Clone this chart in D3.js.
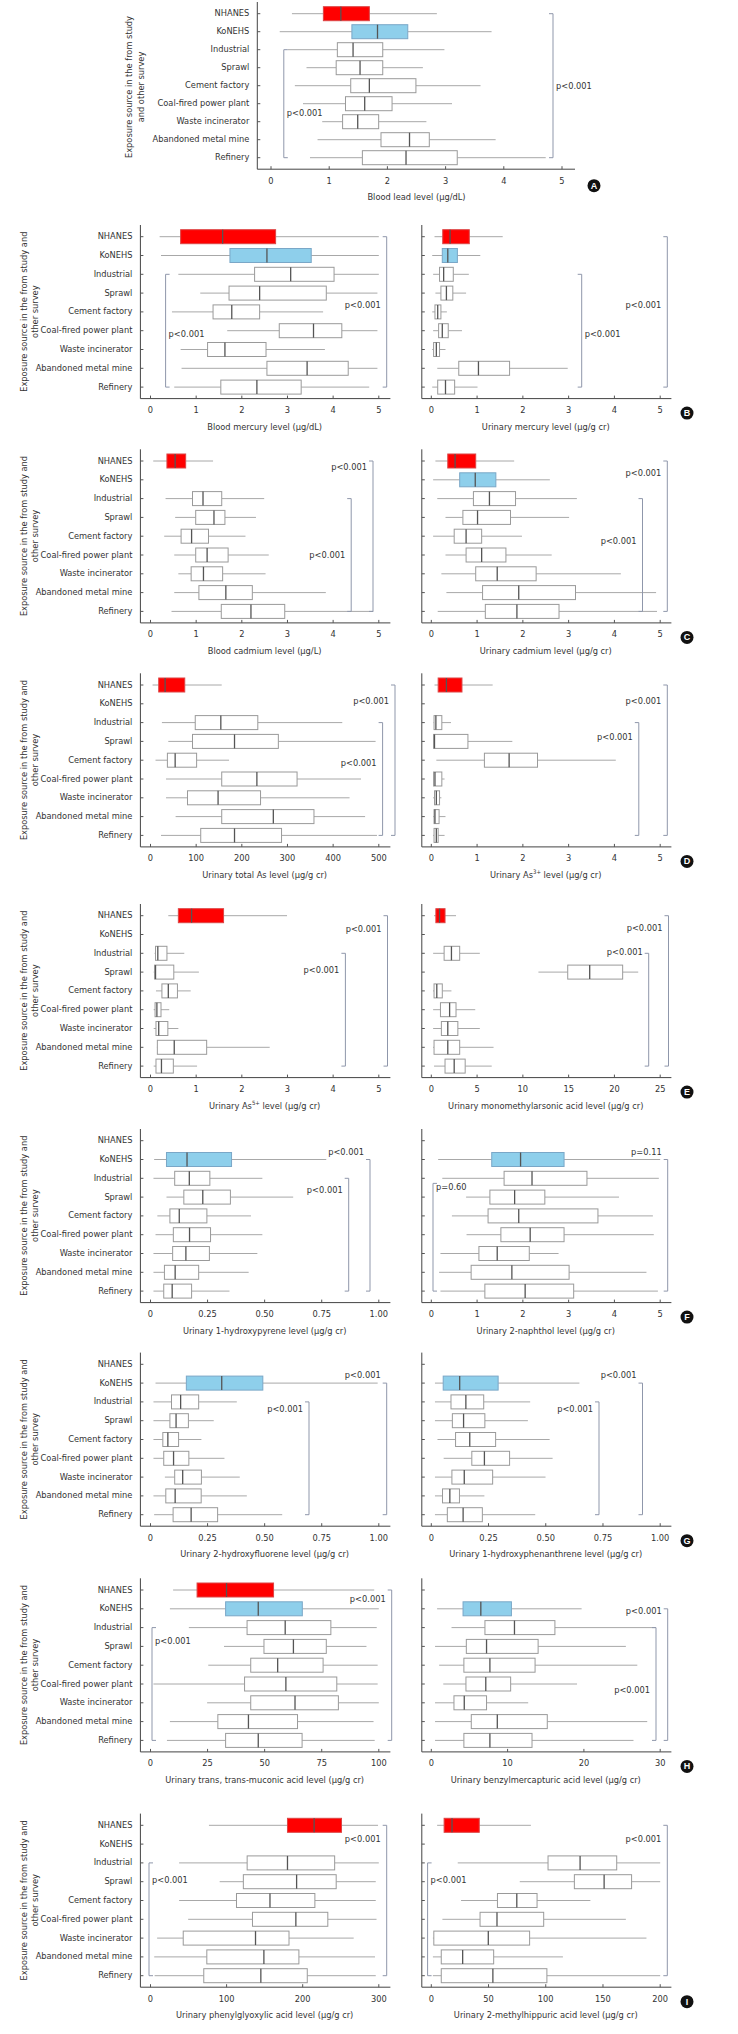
<!DOCTYPE html>
<html><head><meta charset="utf-8">
<script src="https://cdn.jsdelivr.net/npm/d3@7"></script>
<style>
body{margin:0;background:#fff;}
svg{display:block;}
text{font-family:"Liberation Sans Narrow","DejaVu Sans Condensed","Roboto Condensed",sans-serif;fill:#333;}
</style></head>
<body>
<svg id="chart" width="738" height="2034"></svg>
<script>
// ---------- DATA ----------
const categories = ["NHANES","KoNEHS","Industrial","Sprawl","Cement factory","Coal-fired power plant","Waste incinerator","Abandoned metal mine","Refinery"];
// each row: [lower whisker, Q1, median, Q3, upper whisker]; null = not reported
const bloodLead = [[0.36,0.90,1.20,1.69,2.85],[0.15,1.39,1.83,2.35,3.79],[0.29,1.14,1.41,1.92,2.98],[0.61,1.12,1.53,1.92,2.61],[0.41,1.37,1.69,2.49,3.60],[0.55,1.28,1.61,2.08,3.11],[0.88,1.23,1.49,1.85,2.67],[0.80,1.89,2.38,2.72,3.86],[0.67,1.57,2.32,3.20,4.72]];
const bloodMercury = [[0.20,0.66,1.58,2.74,5.0],[0.23,1.74,2.55,3.52,5.0],[0.61,2.28,3.07,4.02,5.0],[1.09,1.72,2.39,3.85,4.97],[0.47,1.37,1.78,2.39,3.78],[1.68,2.82,3.57,4.19,4.97],[0.66,1.25,1.63,2.53,3.82],[0.68,2.55,3.43,4.33,4.97],[0.52,1.54,2.33,3.30,4.79]];
const urinaryMercury = [[0.07,0.25,0.41,0.83,1.56],[0.02,0.24,0.36,0.57,1.07],[0.04,0.18,0.27,0.48,0.82],[0.09,0.21,0.33,0.47,0.76],[0.02,0.08,0.14,0.21,0.34],[0.04,0.16,0.24,0.37,0.67],[0.02,0.05,0.11,0.18,0.31],[0.13,0.60,1.03,1.71,2.98],[0.02,0.14,0.31,0.51,1.01]];
const bloodCadmium = [[0.06,0.36,0.54,0.77,1.37],null,[0.33,0.92,1.15,1.56,2.49],[0.54,0.99,1.39,1.63,2.31],[0.30,0.67,0.90,1.27,2.08],[0.52,0.99,1.24,1.70,2.59],[0.61,0.89,1.16,1.58,2.52],[0.52,1.06,1.65,2.23,3.84],[0.46,1.55,2.20,2.94,4.88]];
const urinaryCadmium = [[0.09,0.36,0.52,0.97,1.81],[0.04,0.62,0.96,1.41,2.59],[0.13,0.92,1.27,1.84,3.18],[0.31,0.69,1.01,1.73,3.01],[0.04,0.50,0.76,1.10,1.98],[0.31,0.76,1.10,1.63,2.63],[0.22,0.97,1.44,2.29,4.14],[0.33,1.12,1.91,3.15,4.91],[0.14,1.18,1.87,2.79,4.93]];
const totalAs = [[4.5,18,32,75,156],null,[25,98,154,235,420],[39,92,184,280,493],[11,37,54,101,172],[34,156,233,321,461],[34,81,148,241,436],[55,156,269,358,470],[23,110,184,287,496]];
const as3 = [[0.07,0.15,0.33,0.67,1.34],null,[0.05,0.06,0.10,0.23,0.43],[0.04,0.05,0.07,0.80,1.77],[0.11,1.16,1.70,2.32,4.03],[0.04,0.05,0.08,0.23,0.29],[0.04,0.07,0.11,0.18,0.22],[0.04,0.06,0.08,0.17,0.31],[0.04,0.06,0.11,0.15,0.29]];
const as5 = [[0.39,0.61,0.90,1.60,2.99],null,[0.09,0.11,0.16,0.36,0.74],[0.07,0.09,0.11,0.51,1.06],[0.12,0.25,0.39,0.59,0.88],[0.07,0.10,0.14,0.23,0.41],[0.07,0.12,0.18,0.38,0.61],[0.14,0.15,0.52,1.23,2.61],[0.07,0.12,0.24,0.50,1.02]];
const mma = [[0.3,0.5,0.9,1.5,2.7],null,[0.2,1.4,2.2,3.1,5.3],[11.7,14.9,17.3,20.9,22.6],[0.2,0.3,0.6,1.2,2.2],[0.2,1.0,2.0,2.7,4.8],[0.2,1.1,1.8,2.9,5.3],[0.2,0.3,1.8,3.1,6.8],[0.3,1.5,2.5,3.7,6.6]];
const hydroxypyrene = [null,[0.016,0.07,0.16,0.355,0.77],[0.013,0.106,0.17,0.26,0.49],[0.07,0.146,0.229,0.35,0.625],[0.03,0.085,0.126,0.247,0.44],[0.022,0.10,0.171,0.263,0.49],[0.013,0.097,0.155,0.258,0.468],[0.013,0.061,0.108,0.211,0.43],[0.013,0.058,0.095,0.18,0.346]];
const naphthol = [null,[0.15,1.32,1.95,2.90,5.0],[0.24,1.59,2.20,3.40,4.97],[0.76,1.28,1.82,2.48,4.10],[0.45,1.24,1.91,3.64,4.84],[0.77,1.52,2.16,2.90,4.86],[0.20,1.04,1.44,2.14,2.78],[0.17,0.87,1.76,3.01,4.70],[0.20,1.17,2.05,3.11,4.95]];
const hydroxyfluorene = [null,[0.022,0.157,0.312,0.492,0.995],[0.013,0.092,0.132,0.211,0.378],[0.013,0.085,0.112,0.166,0.277],[0.013,0.054,0.076,0.123,0.223],[0.013,0.058,0.101,0.168,0.324],[0.063,0.106,0.141,0.223,0.391],[0.013,0.067,0.108,0.222,0.422],[0.016,0.099,0.178,0.294,0.577]];
const hydroxyphenanthrene = [null,[0.016,0.052,0.124,0.292,0.647],[0.016,0.086,0.151,0.229,0.432],[0.016,0.092,0.141,0.234,0.422],[0.027,0.106,0.168,0.281,0.517],[0.054,0.177,0.232,0.342,0.530],[0.016,0.090,0.144,0.268,0.499],[0.016,0.049,0.081,0.123,0.232],[0.016,0.070,0.139,0.223,0.454]];
const muconic = [[9.9,20.4,33.3,53.9,98.0],[8.5,32.9,47.2,66.5,100],[16.8,42.3,59.0,79.0,99.1],[32.2,49.7,62.6,77.0,94.6],[25.3,43.9,55.7,75.6,99.5],[1.3,41.2,59.3,81.6,99.5],[24.8,43.9,63.3,82.3,100],[8.5,29.5,42.9,64.4,97.7],[7.2,32.9,47.2,66.4,98.2]];
const benzylmercapturic = [null,[0.76,4.16,6.49,10.5,19.7],[2.65,7.03,10.9,16.2,29.4],[0.49,4.59,7.24,14.0,25.5],[1.03,4.27,7.68,13.6,27.0],[1.57,4.54,7.14,10.4,19.1],[0.49,2.97,4.32,7.24,12.7],[0.49,5.24,8.65,15.2,28.3],[0.49,4.27,7.68,13.2,26.5]];
const phenylglyoxylic = [[76.8,180,215,251,299],null,[37.6,127,180,242,300],[90.9,122,192,244,296],[37.6,113,157,216,296],[49.5,134,191,233,297],[8.7,43,138,182,267],[4.9,74,149,195,295],[5.4,70,145,206,296]];
const methylhippuric = [[5.1,11.2,18.1,41.9,87.0],null,[23.1,102,130,162,200],[77.3,125,151,175,200],[26.0,57.8,74.7,92.4,139],[9.7,42.6,57.4,98.2,170],[1.4,2.2,49.8,85.9,188],[1.4,8.7,27.4,54.5,115],[1.4,8.7,53.8,101,200]];

// tick values
const ticks0to5 = [0,1,2,3,4,5];
const ticksTotalAs = [0,100,200,300,400,500];
const ticksMMA = [0,5,10,15,20,25];
const ticksFrac = [0,0.25,0.5,0.75,1];
const tickLabelsFrac = ["0","0.25","0.50","0.75","1.00"];
const ticksMuconic = [0,25,50,75,100];
const ticksBenzyl = [0,10,20,30];
const ticksPhenyl = [0,100,200,300];
const ticksMethyl = [0,50,100,150,200];

// ---------- LAYOUT ----------
const svg = d3.select("#chart");
const SIDE = {
  A:{axisX:257.3,x0:271,x1:562,axisEnd:575},
  L:{axisX:140.4,x0:150.5,x1:378.8,axisEnd:390.4},
  R:{axisX:421.8,x0:431.3,x1:660.2,axisEnd:671.4}
};
const colors = {NHANES:"#ff0000",KoNEHS:"#8ecfeb"};

// bracket: [type ']' or '[', x, fromRow, toRow, label, labelRow, labelSide]
const panels = [
 {side:"A",data:bloodLead,ticks:ticks0to5,title:["Blood lead level (µg/dL)"],nh:13.7,sp:18,
  brackets:[["[",283.8,2,8,"p<0.001",5.53,"r"],["]",553,0,8,"p<0.001",4.06,"r"]]},
 {side:"L",data:bloodMercury,ticks:ticks0to5,title:["Blood mercury level (µg/dL)"],nh:236.7,
  brackets:[["]",386.7,0,8,"p<0.001",3.67,"l"],["[",165.6,2,8,"p<0.001",5.19,"r"]]},
 {side:"R",data:urinaryMercury,ticks:ticks0to5,title:["Urinary mercury level (µg/g cr)"],nh:236.7,letter:"B",
  brackets:[["]",667.3,0,8,"p<0.001",3.67,"l"],["]",581.7,2,8,"p<0.001",5.19,"r"]]},
 {side:"L",data:bloodCadmium,ticks:ticks0to5,title:["Blood cadmium level (µg/L)"],nh:461,
  brackets:[["]",373,0,8,"p<0.001",0.36,"l"],["]",351.2,2,8,"p<0.001",5.02,"l"]]},
 {side:"R",data:urinaryCadmium,ticks:ticks0to5,title:["Urinary cadmium level (µg/g cr)"],nh:461,letter:"C",
  brackets:[["]",667.3,0,8,"p<0.001",0.69,"l"],["]",642.5,2,8,"p<0.001",4.29,"l"]]},
 {side:"L",data:totalAs,ticks:ticksTotalAs,title:["Urinary total As level (µg/g cr)"],nh:685,
  brackets:[["]",395,0,8,"p<0.001",0.88,"l"],["]",382.6,2,8,"p<0.001",4.16,"l"]]},
 {side:"R",data:as3,ticks:ticks0to5,title:["Urinary As","3+"," level (µg/g cr)"],nh:685,letter:"D",
  brackets:[["]",667.3,0,8,"p<0.001",0.88,"l"],["]",638.8,2,8,"p<0.001",2.8,"l"]]},
 {side:"L",data:as5,ticks:ticks0to5,title:["Urinary As","5+"," level (µg/g cr)"],nh:915.7,
  brackets:[["]",387.5,0,8,"p<0.001",0.71,"l"],["]",345.4,2,8,"p<0.001",2.89,"l"]]},
 {side:"R",data:mma,ticks:ticksMMA,title:["Urinary monomethylarsonic acid level (µg/g cr)"],nh:915.7,letter:"E",
  brackets:[["]",668.5,0,8,"p<0.001",0.67,"l"],["]",648.7,2,8,"p<0.001",1.97,"l"]]},
 {side:"L",data:hydroxypyrene,ticks:ticksFrac,tickLabels:tickLabelsFrac,title:["Urinary 1-hydroxypyrene level (µg/g cr)"],nh:1140.7,
  brackets:[["]",370,1,8,"p<0.001",0.62,"l"],["]",348.7,2,8,"p<0.001",2.64,"l"]]},
 {side:"R",data:naphthol,ticks:ticks0to5,title:["Urinary 2-naphthol level (µg/g cr)"],nh:1140.7,letter:"F",
  brackets:[["]",667.7,1,8,"p=0.11",0.62,"l"],["[",433,2.27,8,"p=0.60",2.48,"r"]]},
 {side:"L",data:hydroxyfluorene,ticks:ticksFrac,tickLabels:tickLabelsFrac,title:["Urinary 2-hydroxyfluorene level (µg/g cr)"],nh:1364.3,
  brackets:[["]",386.7,1,8,"p<0.001",0.57,"l"],["]",309,2,8,"p<0.001",2.43,"l"]]},
 {side:"R",data:hydroxyphenanthrene,ticks:ticksFrac,tickLabels:tickLabelsFrac,title:["Urinary 1-hydroxyphenanthrene level (µg/g cr)"],nh:1364.3,letter:"G",
  brackets:[["]",642.5,1,8,"p<0.001",0.57,"l"],["]",599,2,8,"p<0.001",2.43,"l"]]},
 {side:"L",data:muconic,ticks:ticksMuconic,title:["Urinary trans, trans-muconic acid level (µg/g cr)"],nh:1590,
  brackets:[["]",391.7,0,8,"p<0.001",0.53,"l"],["[",152,2,8,"p<0.001",2.75,"r"]]},
 {side:"R",data:benzylmercapturic,ticks:ticksBenzyl,title:["Urinary benzylmercapturic acid level (µg/g cr)"],nh:1590,letter:"H",
  brackets:[["]",667.7,1,8,"p<0.001",1.15,"l"],["]",656,2,8,"p<0.001",5.32,"l"]]},
 {side:"L",data:phenylglyoxylic,ticks:ticksPhenyl,title:["Urinary phenylglyoxylic acid level (µg/g cr)"],nh:1825.3,
  brackets:[["]",386.7,0,8,"p<0.001",0.78,"l"],["[",149,2,8,"p<0.001",2.96,"r"]]},
 {side:"R",data:methylhippuric,ticks:ticksMethyl,title:["Urinary 2-methylhippuric acid level (µg/g cr)"],nh:1825.3,letter:"I",
  brackets:[["]",667.3,0,8,"p<0.001",0.78,"l"],["[",427.6,2,8,"p<0.001",2.96,"r"]]}
];

const FS = 9.2;

panels.forEach(p => {
  const S = SIDE[p.side];
  const sp = p.sp || 18.8;
  const top = p.nh - 11.7;
  const axisY = p.nh + 8*sp + 11.5;
  const x = d3.scaleLinear().domain([p.ticks[0], p.ticks[p.ticks.length-1]]).range([S.x0, S.x1]);
  const y = d3.scalePoint().domain(categories).range([p.nh, p.nh + 8*sp]);
  const rowY = r => p.nh + r*sp;
  const g = svg.append("g");

  // axes
  g.append("line").attr("x1",S.axisX).attr("x2",S.axisX).attr("y1",top).attr("y2",axisY)
    .attr("stroke","#444").attr("stroke-width",1);
  g.append("line").attr("x1",S.axisX).attr("x2",S.axisEnd).attr("y1",axisY).attr("y2",axisY)
    .attr("stroke","#444").attr("stroke-width",1);
  // x ticks (inward)
  p.ticks.forEach((t,i) => {
    g.append("line").attr("x1",x(t)).attr("x2",x(t)).attr("y1",axisY).attr("y2",axisY-3)
      .attr("stroke","#555");
    g.append("text").attr("x",x(t)).attr("y",axisY+12).attr("text-anchor","middle")
      .attr("dominant-baseline","middle").attr("font-size",FS)
      .text(p.tickLabels ? p.tickLabels[i] : d3.format("~g")(t));
  });
  // y ticks & labels
  const showLabels = p.side !== "R";
  categories.forEach(c => {
    g.append("line").attr("x1",S.axisX).attr("x2",S.axisX+3).attr("y1",y(c)).attr("y2",y(c)).attr("stroke","#555");
    if (showLabels) {
      g.append("text").attr("x",S.axisX-8).attr("y",y(c)).attr("text-anchor","end")
        .attr("dominant-baseline","middle").attr("font-size",FS).text(c);
    }
  });
  // y title
  if (showLabels) {
    const lines = p.side==="A" ? ["Exposure source in the from study","and other survey"]
                               : ["Exposure source in the from study and","other survey"];
    const tx = p.side==="A" ? [129,141] : [24,35.5];
    const cy = p.side==="A" ? 87 : p.nh + 75;
    lines.forEach((l,i) => {
      g.append("text").attr("transform",`translate(${tx[i]},${cy}) rotate(-90)`)
        .attr("text-anchor","middle").attr("dominant-baseline","middle").attr("font-size",FS).text(l);
    });
  }
  // x title
  const tt = g.append("text").attr("x",(S.x0+S.x1)/2).attr("y",axisY+28.5)
    .attr("text-anchor","middle").attr("dominant-baseline","middle").attr("font-size",FS);
  if (p.title.length === 3) {
    tt.append("tspan").text(p.title[0]);
    tt.append("tspan").attr("font-size",6).attr("dy",-3.5).text(p.title[1]);
    tt.append("tspan").attr("dy",3.5).text(p.title[2]);
  } else tt.text(p.title[0]);

  // boxes
  const bh = 14;
  p.data.forEach((d,i) => {
    if (!d) return;
    const c = categories[i];
    const cy = y(c);
    const fill = colors[c] || "#fff";
    const stroke = c==="NHANES" ? "#d44" : (c==="KoNEHS" ? "#7aa7c7" : "#9a9a9a");
    g.append("line").attr("x1",x(d[0])).attr("x2",x(d[1])).attr("y1",cy).attr("y2",cy)
      .attr("stroke","#a8a8a8").attr("stroke-width",1);
    g.append("line").attr("x1",x(d[3])).attr("x2",x(d[4])).attr("y1",cy).attr("y2",cy)
      .attr("stroke","#a8a8a8").attr("stroke-width",1);
    g.append("rect").attr("x",x(d[1])).attr("y",cy-bh/2).attr("width",Math.max(0.5,x(d[3])-x(d[1]))).attr("height",bh)
      .attr("fill",fill).attr("stroke",stroke).attr("stroke-width",1);
    g.append("line").attr("x1",x(d[2])).attr("x2",x(d[2])).attr("y1",cy-bh/2).attr("y2",cy+bh/2)
      .attr("stroke","#555").attr("stroke-width",1.3);
  });

  // brackets
  p.brackets.forEach(b => {
    const [type,bx,r0,r1,label,lr,ls] = b;
    const y0 = rowY(r0), y1 = rowY(r1);
    const dir = type==="]" ? -4 : 4;
    g.append("path").attr("d",`M${bx+dir},${y0}H${bx}V${y1}H${bx+dir}`)
      .attr("fill","none").attr("stroke","#8f97ab").attr("stroke-width",1);
    const lx = ls==="l" ? bx - (type==="]"?4:0) - 2 : bx + 3;
    g.append("text").attr("x",lx).attr("y",rowY(lr)).attr("text-anchor",ls==="l"?"end":"start")
      .attr("dominant-baseline","middle").attr("font-size",FS).text(label);
  });

  // panel letter
  if (p.side==="A" || p.letter) {
    const L = p.side==="A" ? "A" : p.letter;
    const lx = p.side==="A" ? 594 : 687;
    const ly = p.side==="A" ? 185.7 : axisY + 14.5;
    g.append("circle").attr("cx",lx).attr("cy",ly).attr("r",6.5).attr("fill","#111");
    g.append("text").attr("x",lx).attr("y",ly+0.5).attr("text-anchor","middle").attr("dominant-baseline","middle")
      .attr("font-size",9).attr("font-weight","bold").style("fill","#fff")
      .style("font-family","'Liberation Sans','DejaVu Sans',sans-serif").text(L);
  }
});
</script>
</body></html>
